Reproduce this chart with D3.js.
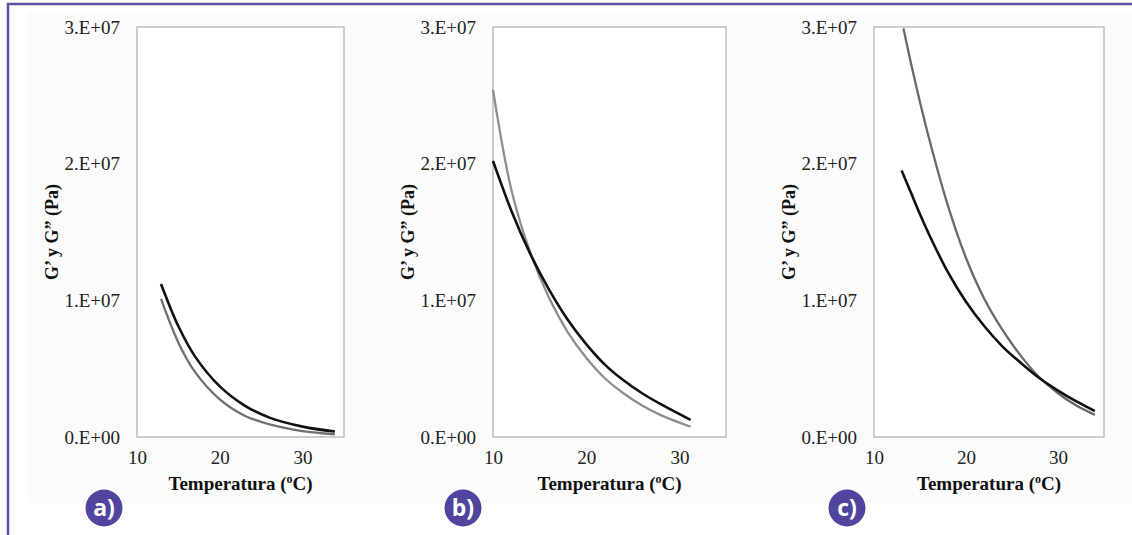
<!DOCTYPE html>
<html>
<head>
<meta charset="utf-8">
<script src="https://cdn.jsdelivr.net/npm/d3@7/dist/d3.min.js"></script>
<style>
  body { margin: 0; background: #fff; }
  svg { display: block; }
  .serif { font-family: "Liberation Serif", "Times New Roman", Times, "DejaVu Serif", serif; }
</style>
</head>
<body>
<script>
// values (G' / G'' in Pa, temperature in C)
let panelNames = ["a)", "b)", "c)"];
let yTickValues = [0, 1e7, 2e7, 3e7];
let yTickLabels = ["0.E+00", "1.E+07", "2.E+07", "3.E+07"];
let xTickValues = [10, 20, 30];
let xTickLabels = ["10", "20", "30"];

let tempA = [12.9, 15, 17, 20, 23, 26, 30, 33.9];
let blackA = [1.12e7, 8.1e6, 5.9e6, 3.7e6, 2.3e6, 1.42e6, 7.6e5, 4.0e5];
let grayA = [1.01e7, 6.9e6, 4.76e6, 2.75e6, 1.56e6, 9.2e5, 4.3e5, 2.0e5];

let tempB = [10, 12, 14, 16, 18, 20, 22, 24, 26, 28, 31.2];
let blackB = [2.02e7, 1.65e7, 1.34e7, 1.08e7, 8.6e6, 6.8e6, 5.3e6, 4.15e6, 3.2e6, 2.4e6, 1.25e6];
let grayB = [2.54e7, 1.80e7, 1.35e7, 1.02e7, 7.7e6, 5.8e6, 4.3e6, 3.2e6, 2.3e6, 1.6e6, 7.5e5];

let tempCblack = [13, 14, 15, 16, 18, 20, 22, 24, 26, 28, 30, 32, 34];
let blackC = [1.95e7, 1.79e7, 1.63e7, 1.48e7, 1.21e7, 9.9e6, 8.1e6, 6.6e6, 5.4e6, 4.3e6, 3.4e6, 2.6e6, 1.9e6];
let tempCgray = [13.2, 14, 15, 16, 18, 20, 22, 24, 26, 28, 30, 32, 34];
let grayC = [2.99e7, 2.74e7, 2.45e7, 2.18e7, 1.70e7, 1.31e7, 1.01e7, 7.8e6, 5.9e6, 4.35e6, 3.2e6, 2.3e6, 1.62e6];

let xDomain = [10, 35];
let yDomain = [0, 3e7];

function zip(xs, ys) {
  return xs.map(function(x, i) { return { t: x, v: ys[i] }; });
}

// layout of the three plots
let panels = [
  { left: 137, right: 344, badgeX: 104, grayColor: "#6f6f6f",
    series: [zip(tempA, grayA), zip(tempA, blackA)] },
  { left: 493, right: 726, badgeX: 463, grayColor: "#8e8e8e",
    series: [zip(tempB, grayB), zip(tempB, blackB)] },
  { left: 874, right: 1104, badgeX: 847, grayColor: "#696969",
    series: [zip(tempCgray, grayC), zip(tempCblack, blackC)] }
];
let plotTop = 27, plotBottom = 437;
let W = 1132, H = 535;

let svg = d3.select("body").append("svg")
  .attr("width", W)
  .attr("height", H);

// faint scan background + purple frame
svg.append("rect")
  .attr("x", 27).attr("y", 12)
  .attr("width", W - 27).attr("height", 491)
  .attr("fill", "#fbfbfb");

svg.append("path")
  .attr("d", "M8," + H + "V4H" + W)
  .attr("fill", "none")
  .attr("stroke", "#5b50a8")
  .attr("stroke-width", 2.5);

panels.forEach(function(p, idx) {
  let x = d3.scaleLinear().domain(xDomain).range([p.left, p.right]);
  let y = d3.scaleLinear().domain(yDomain).range([plotBottom, plotTop]);

  let g = svg.append("g");

  g.append("rect")
    .attr("x", p.left)
    .attr("y", plotTop)
    .attr("width", p.right - p.left)
    .attr("height", plotBottom - plotTop)
    .attr("fill", "#fff")
    .attr("stroke", "#bdbdbd")
    .attr("stroke-width", 1.5);

  let yAxis = d3.axisLeft(y)
    .tickValues(yTickValues)
    .tickSize(0)
    .tickPadding(17)
    .tickFormat(function(d, i) { return yTickLabels[i]; });

  let xAxis = d3.axisBottom(x)
    .tickValues(xTickValues)
    .tickSize(0)
    .tickPadding(14)
    .tickFormat(function(d, i) { return xTickLabels[i]; });

  let ya = g.append("g")
    .attr("transform", "translate(" + p.left + ",0)")
    .call(yAxis);
  let xa = g.append("g")
    .attr("transform", "translate(0," + plotBottom + ")")
    .call(xAxis);

  [ya, xa].forEach(function(a) {
    a.attr("font-family", null).attr("font-size", null);
    a.select(".domain").remove();
    a.selectAll("text")
      .attr("class", "serif")
      .attr("fill", "#222")
      .style("font-size", "19px");
  });

  let line = d3.line()
    .x(function(d) { return x(d.t); })
    .y(function(d) { return y(d.v); })
    .curve(d3.curveCatmullRom.alpha(0.5));

  g.append("path")
    .datum(p.series[0])
    .attr("d", line)
    .attr("fill", "none")
    .attr("stroke", p.grayColor)
    .attr("stroke-width", 2.3);

  g.append("path")
    .datum(p.series[1])
    .attr("d", line)
    .attr("fill", "none")
    .attr("stroke", "#111")
    .attr("stroke-width", 2.6);

  // axis titles
  let xt = g.append("text")
    .attr("class", "serif")
    .attr("x", (p.left + p.right) / 2)
    .attr("y", 490)
    .attr("text-anchor", "middle")
    .attr("fill", "#111")
    .style("font-weight", "bold")
    .style("font-size", "19px");
  xt.append("tspan").text("Temperatura (");
  xt.append("tspan").attr("dy", -7).style("font-size", "12px").text("o");
  xt.append("tspan").attr("dy", 7).text("C)");

  g.append("text")
    .attr("class", "serif")
    .attr("transform", "translate(" + (p.left - 85) + "," + ((plotTop + plotBottom) / 2) + ") rotate(-90)")
    .attr("text-anchor", "middle")
    .attr("dy", "0.35em")
    .attr("fill", "#111")
    .style("font-weight", "bold")
    .style("font-size", "18px")
    .text("G\u2019 y G\u201D (Pa)");

  // panel badge
  svg.append("circle")
    .attr("cx", p.badgeX)
    .attr("cy", 508)
    .attr("r", 18.5)
    .attr("fill", "#50449e");
  svg.append("text")
    .attr("x", p.badgeX)
    .attr("y", 508)
    .attr("dy", "0.36em")
    .attr("text-anchor", "middle")
    .attr("fill", "#fff")
    .style("font-family", "'Open Sans', 'Noto Sans', sans-serif")
    .style("font-weight", "bold")
    .style("font-size", "23px")
    .text(panelNames[idx]);
});
</script>
</body>
</html>
